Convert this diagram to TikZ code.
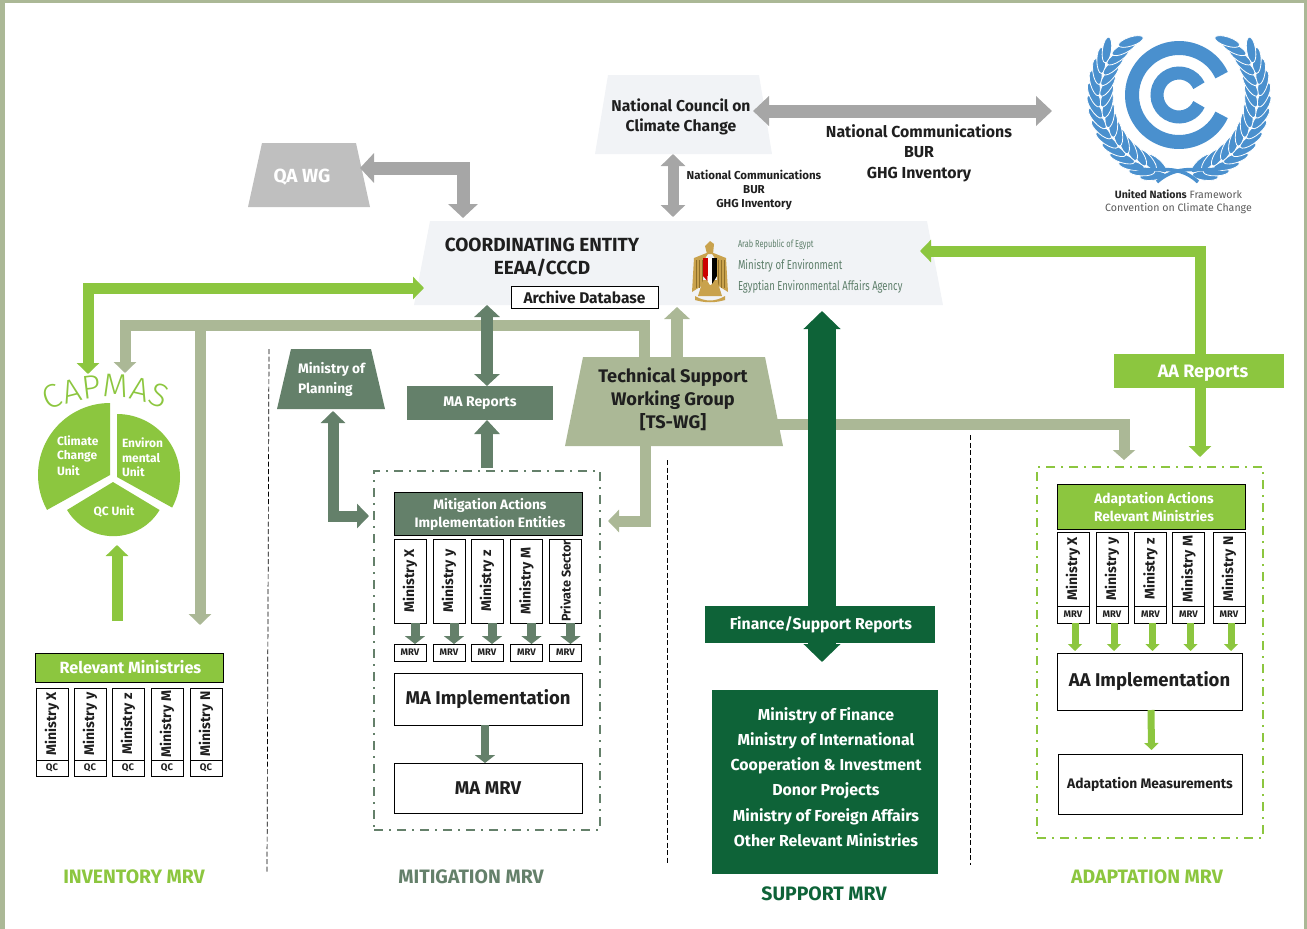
\documentclass[tikz,border=0pt]{standalone}
\usepackage{fontspec}
\usepackage{graphicx}
\setmainfont{Fira Sans}
\newfontfamily\capfont{Fira Sans Light}
\usetikzlibrary{arrows.meta,shapes.geometric,decorations.text,calc}
\definecolor{lgreen}{HTML}{8CC63F}
\definecolor{sage}{HTML}{ABB896}
\definecolor{dsage}{HTML}{64806A}
\definecolor{dgreen}{HTML}{0E6338}
\definecolor{tgrey}{HTML}{A6A6A6}
\definecolor{qagrey}{HTML}{BFBFBF}
\definecolor{pale}{HTML}{F1F3F6}
\definecolor{unblue}{HTML}{4A90CE}
\definecolor{ink}{HTML}{1F1F1F}
\definecolor{gold}{HTML}{C9A24D}
\definecolor{golddk}{HTML}{8F6F2A}
\definecolor{eatext}{HTML}{5E7F6B}
\newcommand{\fs}[1]{\fontsize{#1}{#1}\selectfont}
% name, centre x, centre y, width, height, inset, colour
\newcommand{\trapz}[7]{%
  \fill[#7] ({#2-#4/2},{#3+#5/2}) -- ({#2-#4/2+#6},{#3-#5/2}) -- ({#2+#4/2-#6},{#3-#5/2}) -- ({#2+#4/2},{#3+#5/2}) -- cycle;
  \node[minimum width=#4pt,minimum height=#5pt] (#1) at (#2,#3) {};}
\tikzset{
  every node/.style={inner sep=0pt,outer sep=0pt,text=ink,font=\bfseries},
  box/.style={draw=black,line width=.8pt,fill=white,minimum width=#1,align=center},
  minbox/.style={draw=black,line width=.8pt,fill=white,rotate=90,font=\bfseries\fs{14}},
  mrvbox/.style={draw=black,line width=.8pt,fill=white,font=\bfseries\fs{9.5}},
  tipE/.style n args={2}{-{Triangle[width=#1,length=#2]}},
  tipB/.style n args={2}{{Triangle[width=#1,length=#2]}-{Triangle[width=#1,length=#2]}},
  grayarrow/.style={draw=tgrey,line width=13pt},
  grayv/.style={draw=tgrey,line width=11pt},
  greenarrow/.style={draw=lgreen,line width=11pt},
  sagearrow/.style={draw=sage,line width=11pt},
  dsagearrow/.style={draw=dsage,line width=11pt},
  smallsage/.style={draw=dsage,line width=9pt,-{Triangle[width=20pt,length=8pt]}},
  smallgreen/.style={draw=lgreen,line width=7pt,-{Triangle[width=14pt,length=7pt]}},
  sepline/.style={draw=black,line width=.7pt,dash pattern=on 5pt off 2.5pt},
  groupbox/.style={draw=#1,line width=2pt,dash pattern=on 9pt off 6pt on 2pt off 6pt},
  footer/.style={font=\bfseries\fs{19.4}},
  cw/.style={text=white},
  leaf/.style={fill=unblue,draw=white,line width=.8pt},
}
\begin{document}
\begin{tikzpicture}[x=1pt,y=-1pt]
\useasboundingbox (0,0) rectangle (1307,929);
% frame
\fill[sage] (0,0) rectangle (1307,3);
\fill[sage] (0,0) rectangle (5,929);
\fill[sage] (1304,0) rectangle (1307,929);
% separators
\coordinate (s1a) at (269,349); \coordinate (s1b) at (267,872);
\coordinate (s2a) at (667,460); \coordinate (s2b) at (667,864);
\coordinate (s3a) at (970,435); \coordinate (s3b) at (970,865);
\draw[sepline] (s1a) -- (s1b);
\draw[sepline] (s2a) -- (s2b);
\draw[sepline] (s3a) -- (s3b);
% trapezoids
\trapz{nc}{683.5}{114.5}{177}{79}{13}{pale}
\node[font=\bfseries\fs{15.7},align=center] (nct) at (681,117) {National Council on\\[4.5pt]Climate Change};
\trapz{qa}{309}{175}{122}{64}{14}{qagrey}
\node[cw,font=\bfseries\fs{19}] (qat) at (302,177.5) {QA WG};
\trapz{ce}{678.5}{263}{529}{84}{16}{pale}
\node[font=\bfseries\fs{19}] (cet1) at (542,245) {COORDINATING ENTITY};
\node[font=\bfseries\fs{19}] (cet2) at (542,268) {EEAA/CCCD};
\node[box=147pt,minimum height=22pt,font=\bfseries\fs{15.5}] (arch) at (584.5,297) {Archive Database};
\trapz{mp}{331}{379}{108}{60}{14}{dsage}
\node[cw,anchor=west,font=\bfseries\fs{13.7},align=left] (mpt) at (298,379.5) {Ministry of\\[4pt]Planning};
\trapz{ts}{674}{401.5}{218}{89}{18}{sage}
\node[font=\bfseries\fs{18.2},align=center] (tst) at (673,399.5) {Technical Support\\[3pt]Working Group\\[3pt][TS-WG]};
% group boxes
\node[groupbox=dsage,minimum width=226pt,minimum height=359pt] (mit) at (487,650.5) {};
\node[groupbox=lgreen,minimum width=226pt,minimum height=371pt] (adp) at (1150,652.5) {};
% support box
\node[fill=dgreen,minimum width=226pt,minimum height=184pt] (sup) at (825,782) {};
\node[cw,font=\bfseries\fs{15.9},align=center] (supt) at (826,777) {Ministry of Finance\\[7.8pt]Ministry of International\\[7.8pt]Cooperation \& Investment\\[7.8pt]Donor Projects\\[7.8pt]Ministry of Foreign Affairs\\[7.8pt]Other Relevant Ministries};
% MA reports
\node[fill=dsage,minimum width=146pt,minimum height=34pt,text=white,font=\bfseries\fs{14}] (mar) at (480,403) {MA Reports};
% capmas
\coordinate (capG) at (88,374);
\coordinate (capS) at (125,373);
\coordinate (capB) at (117,545);
\coordinate (invS) at (200,625);
\coordinate (sageJ) at (200,325);
\coordinate (unEnd) at (1052,111);
% arrows
\draw[grayarrow,tipB={29pt}{16pt}] ([shift={(-19pt,3.5pt)}]nc.east) -- (unEnd);
\draw[grayv,tipB={24pt}{12pt}] ([xshift=-10.5pt]nc.south) -- ([shift={(-5.5pt,4pt)}]ce.north);
\draw[grayarrow,tipB={29pt}{14pt}] ([shift={(-10pt,7pt)}]qa.east) -| ([shift={(-215.5pt,3pt)}]ce.north);
\draw[greenarrow,tipB={22pt}{11pt}] ([shift={(10pt,-25pt)}]ce.west) -| (capG);
\draw[sagearrow,tipE={22pt}{11pt}] ([xshift=-30pt]ts.north) -- ++(0,-32) -| (capS);
\draw[sagearrow,tipE={22pt}{11pt}] (sageJ) -- (invS);
\draw[dsagearrow,line width=12pt,tipB={25pt}{12pt}] ([xshift=-191.5pt]ce.south) -- ([xshift=7pt]mar.north);
\draw[dsagearrow,line width=12pt,tipE={25pt}{14pt}] ([shift={(0pt,3pt)}]mit.north) -- ([xshift=7pt]mar.south);
\draw[sagearrow,line width=12pt,tipE={25pt}{12pt}] ([xshift=3pt]ts.north) -- ([shift={(-1.5pt,-2pt)}]ce.south);
\draw[sagearrow,tipE={22pt}{10pt}] ([shift={(-8pt,-22.5pt)}]ts.east) -| ([shift={(-26pt,7pt)}]adp.north);
\draw[sagearrow,tipE={22pt}{11pt}] ([xshift=-29pt]ts.south) |- ([shift={(8pt,129.5pt)}]mit.east);
\draw[dsagearrow,tipB={24pt}{12pt}] ([shift={(2pt,-2pt)}]mp.south) |- ([shift={(-5pt,134.5pt)}]mit.west);
\draw[draw=dgreen,line width=28pt,tipB={36pt}{18pt}] ([shift={(143.5pt,-6pt)}]ce.south) -- ([shift={(-3pt,28pt)}]sup.north);
\draw[greenarrow,tipB={22pt}{11pt}] ([shift={(-23pt,12pt)}]ce.east) -| ([shift={(50pt,10pt)}]adp.north);
% boxes over arrows
\node[fill=dgreen,minimum width=230pt,minimum height=37pt,text=white,font=\bfseries\fs{15.8}] (fin) at (820,624.5) {\hspace*{2pt}Finance/Support Reports};
\node[fill=lgreen,minimum width=170pt,minimum height=34pt] (aar) at (1199,371) {};
\node[text=white,font=\bfseries\fs{18}] (aart) at (1203,373) {AA Reports};
\node[font=\bfseries\fs{15.9},align=center] (ncl) at (919,153) {National Communications\\[4.5pt]BUR\\[4.5pt]GHG Inventory};
\node[font=\bfseries\fs{11.5},align=center] (ncs) at (754,190.5) {National Communications\\[2.5pt]BUR\\[2.5pt]GHG Inventory};
% CAPMAS
\path[decorate,decoration={text along path,text align={fit to path},text={|\capfont\fontsize{33}{33}\selectfont\color{lgreen}|CAPMAS}}] (48,411) .. controls (88,393) and (130,393) .. (163,410);
\fill[lgreen] (110,475) -- (110,403) arc[start angle=90,end angle=209,radius=72pt] -- cycle;
\fill[lgreen] (117,477) -- (117,414) arc[start angle=90,end angle=-29,radius=63pt] -- cycle;
\fill[lgreen] (113,482) -- (67,510) arc[start angle=211,end angle=329,radius=54pt] -- cycle;
\node[cw,anchor=west,font=\bfseries\fs{12},align=left] (u1) at (57,455.5) {Climate\\[2.5pt]Change\\[2.5pt]Unit};
\node[cw,anchor=west,font=\bfseries\fs{12},align=left] (u2) at (122,457.5) {Environ\\[2.5pt]mental\\[2.5pt]Unit};
\node[cw,font=\bfseries\fs{12}] (u3) at (114,512) {QC Unit};
% inventory
\node[fill=lgreen,draw=black,line width=.8pt,minimum width=188pt,minimum height=29pt,text=white,font=\bfseries\fs{16.2}] (rm) at (129,667.5) {\hspace*{3pt}Relevant Ministries};
\draw[greenarrow,tipE={22pt}{11pt}] ([shift={(-12pt,32pt)}]rm.north) -- (capB);
\foreach \n/\c/\t in {1/52/Ministry X,2/90/Ministry y,3/128/Ministry z,4/167/Ministry M,5/206/Ministry N}{
  \node[minbox,minimum width=72pt,minimum height=32pt] (iv\n) at (\c,724) {\t};
  \node[mrvbox,minimum width=32pt,minimum height=16pt] (iq\n) at (\c,768) {QC};
}
% mitigation
\node[fill=dsage,draw=black,line width=.8pt,minimum width=188pt,minimum height=43pt] (mh) at (488,513.5) {};
\node[text=white,align=center,font=\bfseries\fs{13.7}] (mht) at (490,514.5) {Mitigation Actions\\[3pt]Implementation Entities};
\foreach \n/\c/\t/\sz in {1/410/Ministry X/14,2/449/Ministry y/14,3/487/Ministry z/14,4/526.5/Ministry M/14,5/565.5/Private Sector/12.6}{
  \node[minbox,font=\bfseries\fs{\sz},minimum width=84pt,minimum height=32pt] (mx\n) at (\c,581) {\t};
  \node[mrvbox,minimum width=32pt,minimum height=17pt] (mv\n) at (\c,652.5) {MRV};
  \draw[smallsage] ([xshift=5pt]mx\n.west) -- ([xshift=5pt]mv\n.north);
}
\node[box=188pt,minimum height=52pt,font=\bfseries\fs{18.5}] (mai) at (488,699) {MA Implementation};
\node[box=188pt,minimum height=50pt,font=\bfseries\fs{18.5}] (mam) at (488,788) {MA MRV};
\draw[smallsage,line width=8pt] ([xshift=-3pt]mai.south) -- ([xshift=-3pt]mam.north);
% adaptation
\node[fill=lgreen,draw=black,line width=.8pt,minimum width=188pt,minimum height=45pt] (ah) at (1151,506.5) {};
\node[text=white,align=center,font=\bfseries\fs{13.7}] (aht) at (1154,507) {Adaptation Actions\\[3pt]Relevant Ministries};
\node[box=185pt,minimum height=57pt,font=\bfseries\fs{18.5}] (aai) at (1149.5,681.5) {AA Implementation};
\node[box=184pt,minimum height=60pt,font=\bfseries\fs{13.8}] (aam) at (1150,784) {\raisebox{-1pt}{Adaptation Measurements}};
\foreach \n/\c/\t in {1/1073/Ministry X,2/1112/Ministry y,3/1150.5/Ministry z,4/1188.5/Ministry M,5/1229/Ministry N}{
  \node[minbox,minimum width=74pt,minimum height=32pt] (ax\n) at (\c,569) {\t};
  \node[mrvbox,minimum width=32pt,minimum height=17pt] (av\n) at (\c,614.5) {MRV};
  \draw[smallgreen,shorten >=2pt] ([xshift=2pt]av\n.south) -- ([xshift=2pt]av\n.south |- aai.north);
}
\draw[smallgreen] ([xshift=1.5pt]aai.south) -- ([xshift=1.5pt,yshift=4pt]aam.north);
% footers
\node[footer,text=lgreen] (f1) at (134,876.5) {INVENTORY MRV};
\node[footer,text=dsage] (f2) at (471,876.5) {MITIGATION MRV};
\node[footer,text=dgreen] (f3) at (824,893.5) {SUPPORT MRV};
\node[footer,text=lgreen] (f4) at (1147,876.5) {ADAPTATION MRV};
% UNFCCC logo
\coordinate (lc) at (1179,95);
\draw[unblue,line width=14pt] (lc) ++(25:47pt) arc[start angle=25,end angle=335,radius=47pt];
\draw[unblue,line width=13pt] (lc) ++(25:22pt) arc[start angle=25,end angle=335,radius=22pt];
\foreach \a in {252,244,...,148}{
  \pgfmathsetmacro{\co}{85*cos(\a)}\pgfmathsetmacro{\so}{85*sin(\a)}
  \pgfmathsetmacro{\ro}{\a-90+24}
  \fill[leaf,shift={(1179+\co,95-\so)},rotate=\ro] (0,0) ellipse[x radius=13pt,y radius=4.5pt];
  \fill[leaf,shift={(1179-\co,95-\so)},rotate=180-\ro] (0,0) ellipse[x radius=13pt,y radius=4.5pt];
}
\foreach \a in {252,244,...,132}{
  \pgfmathsetmacro{\ci}{72*cos(\a)}\pgfmathsetmacro{\si}{72*sin(\a)}
  \pgfmathsetmacro{\ri}{\a-90-24}
  \fill[leaf,shift={(1179+\ci,95-\si)},rotate=\ri] (0,0) ellipse[x radius=13pt,y radius=4.5pt];
  \fill[leaf,shift={(1179-\ci,95-\si)},rotate=180-\ri] (0,0) ellipse[x radius=13pt,y radius=4.5pt];
}
\draw[unblue,line width=3.5pt] (1128,166) .. controls (1150,176) and (1175,160) .. (1198,182);
\draw[unblue,line width=3.5pt] (1229,166) .. controls (1206,176) and (1181,160) .. (1157,182);
\node[font=\fs{10.6},text=black!65,align=center] (unt) at (1178.5,202) {{\bfseries\color{black!85}United Nations} {\mdseries Framework}\\[2.5pt]{\mdseries Convention on Climate Change}};
% Egypt emblem
\fill[gold] (709,252) -- (694,258) -- (692,292) -- (703,285) -- (703,262) -- cycle;
\fill[gold] (711,252) -- (726,258) -- (728,292) -- (717,285) -- (717,262) -- cycle;
\foreach \x in {696,699,702}{
  \draw[golddk,line width=.5pt] (\x,260) -- (\x,288);
  \draw[golddk,line width=.5pt] (1420-\x,260) -- (1420-\x,288);
}
\fill[gold] (703,280) -- (717,280) -- (722,296) -- (698,296) -- cycle;
\fill[gold] (710,241) -- (714,244) -- (713,254) -- (707,254) -- (705,246) -- cycle;
\fill[red!80!black] (703,258) rectangle (707.5,276);
\fill[white] (707.5,258) rectangle (712,276);
\fill[black] (712,258) rectangle (717,276);
\fill[red!80!black] (703,276) -- (707.5,276) -- (707.5,281) -- cycle;
\fill[white] (707.5,276) -- (712,276) -- (712,284) -- (710,285) -- (707.5,281) -- cycle;
\fill[black] (712,276) -- (717,276) -- (712,284) -- cycle;
\fill[gold] (695,296) .. controls (705,302) and (715,302) .. (725,296) -- (725,300) .. controls (715,303) and (705,303) .. (695,300) -- cycle;
\node[anchor=west,text=eatext,font=\mdseries\fs{10}] (eg1) at (738,245) {\scalebox{.74}[1]{Arab Republic of Egypt}};
\node[anchor=west,text=eatext,font=\mdseries\fs{13}] (eg2) at (738,266) {\scalebox{.74}[1]{Ministry of Environment}};
\node[anchor=west,text=eatext,font=\mdseries\fs{13}] (eg3) at (738,286.5) {\scalebox{.73}[1]{Egyptian Environmental Affairs Agency}};
\end{tikzpicture}
\end{document}
